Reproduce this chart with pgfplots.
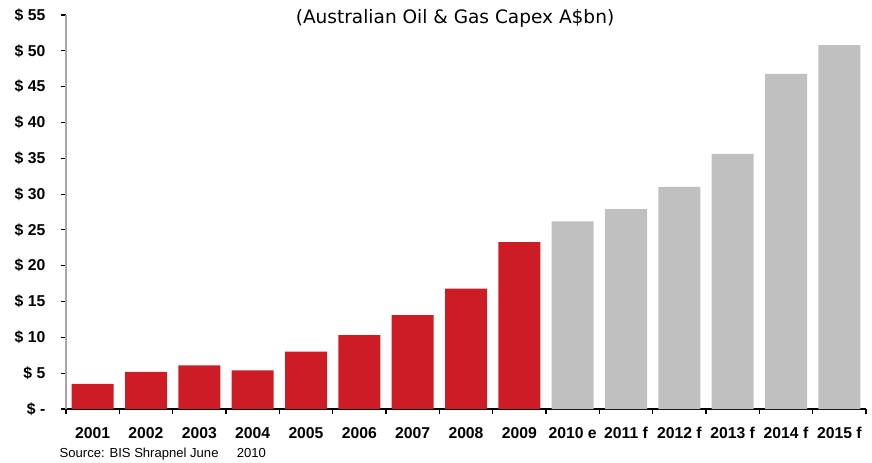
\documentclass[border=0pt]{standalone}
\usepackage{pgfplots}
\pgfplotsset{compat=1.18}
\usepackage{fontspec}
\setmainfont{Liberation Sans}
\newfontfamily\titlefont{DejaVu Sans}

\definecolor{capexred}{RGB}{206,28,38}
\definecolor{capexgray}{RGB}{192,192,192}

\begin{document}
\begin{tikzpicture}
\begin{axis}[
    at={(0,0)}, anchor=south west,
    width=600pt, height=295.5pt, scale only axis,
    ybar, bar width=31.5pt, bar shift=0pt,
    xmin=-0.5, xmax=14.5, ymin=0, ymax=55,
    axis x line=bottom, axis y line=left,
    x axis line style={-, black, line width=1.2pt},
    y axis line style={-, gray!70, line width=0.8pt},
    xtick={0,...,14},
    xticklabels={2001,2002,2003,2004,2005,2006,2007,2008,2009,2010 e,2011 f,2012 f,2013 f,2014 f,2015 f},
    major x tick style={draw=none},
    minor xtick={-0.5,0.5,...,14.5},
    minor x tick style={black, line width=0.8pt},
    ytick={0,5,...,55},
    yticklabels={\$ -,\$ 5,\$ 10,\$ 15,\$ 20,\$ 25,\$ 30,\$ 35,\$ 40,\$ 45,\$ 50,\$ 55},
    y tick style={black, line width=0.8pt},
    tick align=outside,
    major tick length=4pt, minor tick length=4pt,
    ticklabel style={font=\bfseries\fontsize{11.8}{14}\selectfont},
    xticklabel style={yshift=-6pt},
    yticklabel style={xshift=-8pt},
]
\addplot[fill=capexred, draw=none] coordinates {
    (0,3.5) (1,5.2) (2,6.1) (3,5.4) (4,8.0) (5,10.3) (6,13.1) (7,16.8) (8,23.3)
};
\addplot[fill=capexgray, draw=none] coordinates {
    (9,26.2) (10,27.9) (11,31.0) (12,35.6) (13,46.8) (14,50.8)
};
\end{axis}
\node[font=\titlefont\fontsize{13.9}{16}\selectfont] at (291.75pt,293.25pt) {(Australian Oil \& Gas Capex A\$bn)};
\node[anchor=base west, font=\fontsize{9.8}{12}\selectfont] at (-8.25pt,-36pt) {Source: BIS Shrapnel June\hspace{1.4em}2010};
\pgfresetboundingbox
\path[use as bounding box] (-49.5pt,-39.75pt) rectangle (604.5pt,306.75pt);
\end{tikzpicture}
\end{document}
